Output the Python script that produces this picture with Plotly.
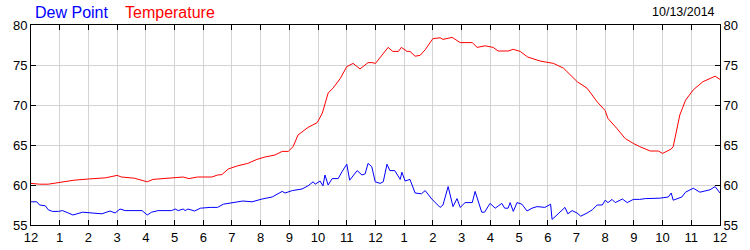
import plotly.graph_objects as go

temp_hours = [0, 0.3, 0.6, 0.95, 1.5, 2.0, 2.6, 3.0, 3.15, 3.6, 3.9, 4.05, 4.25, 4.6, 5.0, 5.3, 5.5, 5.8,
              6.0, 6.3, 6.5, 6.65, 6.87, 7.2, 7.55, 7.87, 8.15, 8.5, 8.75, 8.96, 9.13, 9.3, 9.65, 9.97,
              10.15, 10.35, 10.52, 10.77, 11.0, 11.22, 11.46, 11.74, 11.88, 12.0, 12.23, 12.44, 12.6,
              12.8, 12.9, 13.1, 13.2, 13.38, 13.55, 13.73, 14.0, 14.25, 14.35, 14.5, 14.67, 14.95,
              15.37, 15.54, 15.82, 16.1, 16.27, 16.62, 16.8, 17.04, 17.3, 17.73, 18.2, 18.55, 19.03,
              19.37, 19.72, 20.0, 20.1, 20.4, 20.7, 20.98, 21.2, 21.57, 21.85, 22.0, 22.3, 22.37, 22.5,
              22.6, 22.8, 23.07, 23.4, 23.83, 24.0]
temperature = [60.2, 60.1, 60.1, 60.3, 60.6, 60.75, 60.9, 61.2, 61.0, 60.85, 60.6, 60.4, 60.7, 60.8, 60.85,
               61.0, 60.8, 61.0, 61.0, 61.0, 61.25, 61.3, 62.0, 62.4, 62.7, 63.2, 63.5, 63.75, 64.2, 64.2,
               64.8, 66.25, 67.2, 67.8, 69.0, 71.5, 72.1, 73.3, 74.8, 75.2, 74.5, 75.3, 75.3, 75.2, 76.25,
               77.2, 76.7, 76.7, 77.2, 76.7, 76.7, 76.1, 76.2, 76.9, 78.3, 78.4, 78.2, 78.3, 78.45, 77.8,
               77.8, 77.2, 77.4, 77.2, 76.75, 76.75, 76.96, 76.7, 76.0, 75.5, 75.2, 74.6, 72.9, 72.1, 70.4,
               69.3, 68.3, 67.1, 65.8, 65.2, 64.8, 64.25, 64.25, 63.95, 64.5, 64.8, 66.9, 68.75, 70.6, 71.9,
               72.9, 73.6, 73.2]

dew_hours = [0, 0.2, 0.3, 0.5, 0.6, 0.75, 0.95, 1.1, 1.3, 1.46, 1.8, 2.1, 2.47, 2.75, 2.93, 3.1, 3.28, 3.87,
             4.05, 4.2, 4.43, 4.9, 5.02, 5.13, 5.3, 5.37, 5.47, 5.7, 5.9, 6.24, 6.5, 6.7, 6.87, 7.0, 7.38,
             7.7, 8.05, 8.4, 8.75, 8.85, 9.1, 9.44, 9.65, 9.83, 9.9, 10.07, 10.17, 10.24, 10.35, 10.49,
             10.7, 10.84, 11.0, 11.1, 11.36, 11.53, 11.64, 11.74, 11.87, 11.99, 12.16, 12.27, 12.4, 12.5,
             12.67, 12.86, 12.92, 13.03, 13.2, 13.38, 13.6, 13.73, 13.96, 14.25, 14.35, 14.53, 14.7,
             14.84, 14.95, 15.12, 15.37, 15.47, 15.7, 15.8, 15.99, 16.17, 16.4, 16.5, 16.62, 16.69, 16.8,
             16.93, 17.1, 17.28, 17.45, 17.63, 17.9, 18.1, 18.15, 18.32, 18.6, 18.7, 18.85, 19.02, 19.15,
             19.37, 19.55, 19.72, 19.9, 20.0, 20.1, 20.24, 20.35, 20.6, 20.77, 20.98, 21.2, 21.4, 21.9,
             22.2, 22.3, 22.37, 22.67, 22.8, 23.07, 23.3, 23.65, 23.83, 24.0]
dew_point = [57.9, 57.9, 57.5, 57.4, 56.9, 56.7, 56.7, 56.8, 56.5, 56.25, 56.6, 56.5, 56.4, 56.75, 56.5, 57.0,
             56.8, 56.8, 56.25, 56.6, 56.8, 56.8, 57.0, 56.8, 57.0, 56.8, 57.0, 56.75, 57.1, 57.2, 57.2, 57.6,
             57.7, 57.8, 58.0, 57.9, 58.25, 58.5, 59.2, 59.0, 59.3, 59.5, 59.9, 60.4, 60.1, 60.5, 59.9, 61.25,
             60.0, 60.8, 60.8, 61.7, 62.6, 60.6, 61.8, 61.25, 61.4, 62.7, 62.3, 60.4, 60.2, 60.4, 62.6, 61.8,
             61.8, 60.7, 61.6, 60.5, 60.7, 59.0, 58.9, 59.3, 58.25, 57.2, 57.5, 59.8, 57.3, 58.3, 57.2, 57.8,
             57.8, 59.2, 56.6, 56.6, 57.7, 57.1, 57.7, 57.1, 57.1, 57.8, 56.7, 57.8, 57.6, 56.75, 57.1, 57.3,
             57.2, 57.6, 55.7, 56.25, 57.2, 56.4, 56.8, 56.5, 56.1, 56.5, 56.9, 57.5, 57.5, 58.1, 57.8, 58.2,
             57.8, 58.25, 57.8, 58.2, 58.2, 58.3, 58.35, 58.5, 59.0, 58.1, 58.5, 59.1, 59.6, 59.1, 59.4, 59.8,
             59.0]

x_tick_vals = list(range(0, 25))
x_tick_text = ["12", "1", "2", "3", "4", "5", "6", "7", "8", "9", "10", "11",
               "12", "1", "2", "3", "4", "5", "6", "7", "8", "9", "10", "11", "12"]
y_tick_vals = [55, 60, 65, 70, 75, 80]
date_label = "10/13/2014"

fig = go.Figure()
fig.add_trace(go.Scatter(x=dew_hours, y=dew_point, mode="lines", name="Dew Point",
                         line=dict(color="#0000ff", width=1), hoverinfo="skip"))
fig.add_trace(go.Scatter(x=temp_hours, y=temperature, mode="lines", name="Temperature",
                         line=dict(color="#ff0000", width=1), hoverinfo="skip"))
# invisible trace to activate right axis
fig.add_trace(go.Scatter(x=[temp_hours[0]], y=[temperature[0]], yaxis="y2", mode="lines",
                         line=dict(width=0), showlegend=False, hoverinfo="skip"))

FAM = "Arial, Liberation Sans, sans-serif"
font = dict(family=FAM, size=13, color="#000000")

L, R, T, B = 31, 30, 25, 25
fig.update_layout(
    width=750, height=250,
    margin=dict(l=L, r=R, t=T, b=B, autoexpand=False),
    paper_bgcolor="white", plot_bgcolor="white",
    showlegend=False,
    font=font,
    xaxis=dict(range=[0, 24], tickvals=x_tick_vals, ticktext=x_tick_text,
               showgrid=True, gridcolor="#d3d3d3", gridwidth=1,
               ticks="inside", ticklen=5, tickcolor="black", tickwidth=1,
               showline=True, linecolor="black", linewidth=1, mirror="ticks",
               zeroline=False, tickfont=font, automargin=False),
    yaxis=dict(range=[55, 80], tickvals=y_tick_vals,
               showgrid=True, gridcolor="#d3d3d3", gridwidth=1,
               ticks="inside", ticklen=5, tickcolor="black", tickwidth=1,
               showline=True, linecolor="black", linewidth=1, mirror=True,
               zeroline=False, tickfont=font, automargin=False),
    yaxis2=dict(range=[55, 80], tickvals=y_tick_vals, overlaying="y", side="right",
                showgrid=False, ticks="inside", ticklen=5, tickcolor="black", tickwidth=1,
                showline=True, linecolor="black", linewidth=1, zeroline=False, tickfont=font,
                automargin=False),
)

pw = 750 - L - R
ph = 250 - T - B
hy = (250 - B - 12) / ph
fig.add_annotation(text="Dew Point", x=(33 - L) / pw, y=hy, xref="paper", yref="paper",
                   xanchor="left", yanchor="middle", showarrow=False,
                   font=dict(family=FAM, size=16, color="#0000ff"))
fig.add_annotation(text="Temperature", x=(123 - L) / pw, y=hy, xref="paper", yref="paper",
                   xanchor="left", yanchor="middle", showarrow=False,
                   font=dict(family=FAM, size=16, color="#ff0000"))
fig.add_annotation(text=date_label, x=(717 - L) / pw, y=hy, xref="paper", yref="paper",
                   xanchor="right", yanchor="middle", showarrow=False,
                   font=dict(family=FAM, size=12.5, color="#000000"))

fig.write_html("out.html")
